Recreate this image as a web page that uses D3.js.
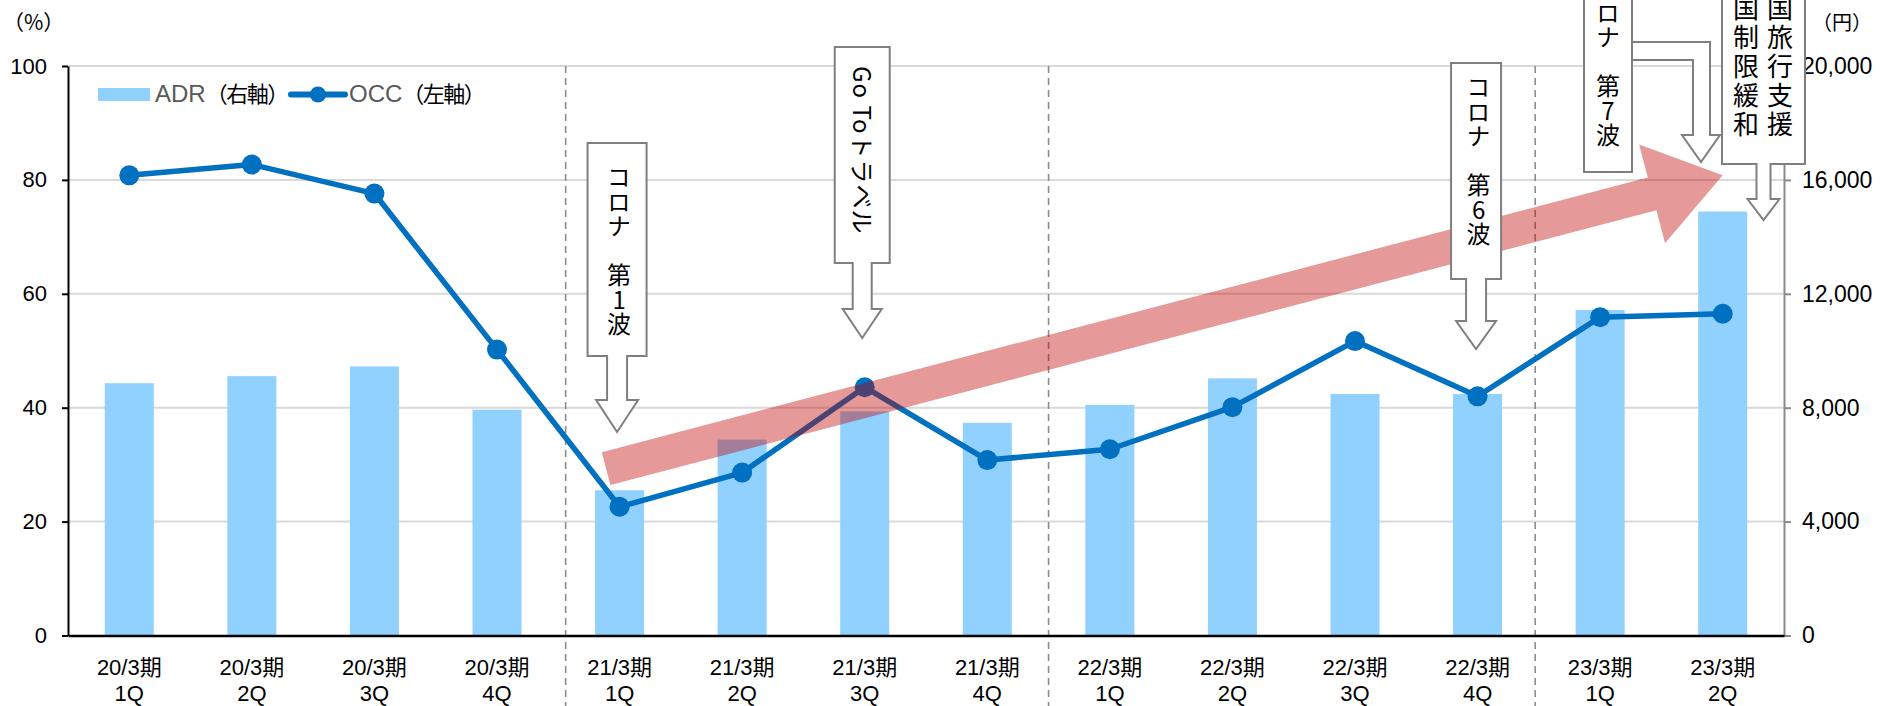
<!DOCTYPE html>
<html>
<head>
<meta charset="utf-8">
<script src="https://cdn.jsdelivr.net/npm/d3@7/dist/d3.min.js"></script>
<style>
  html, body { margin: 0; padding: 0; background: #fff; }
  svg { display: block; }
  text { font-family: "Liberation Sans", Arial, "Noto Sans CJK JP", sans-serif; }
  .jp { font-family: "Noto Sans CJK JP", "Liberation Sans", sans-serif; }
  .vt { font-family: "Noto Sans CJK JP", sans-serif; writing-mode: vertical-rl; text-orientation: upright; }
</style>
</head>
<body>
<svg id="chart" width="1880" height="706"></svg>
<script>
// ---------------- data ----------------
const periods  = ["20/3期","20/3期","20/3期","20/3期","21/3期","21/3期","21/3期","21/3期","22/3期","22/3期","22/3期","22/3期","23/3期","23/3期"];
const quarters = ["1Q","2Q","3Q","4Q","1Q","2Q","3Q","4Q","1Q","2Q","3Q","4Q","1Q","2Q"];
const adrValues = [8860, 9110, 9450, 7930, 5100, 6880, 7870, 7470, 8100, 9030, 8480, 8480, 11430, 14890];
const occValues = [80.8, 82.7, 77.6, 50.2, 22.6, 28.6, 43.6, 30.8, 32.7, 40.1, 51.7, 42.0, 55.9, 56.5];
const occTicks = [0, 20, 40, 60, 80, 100];
const adrTicks = [0, 4000, 8000, 12000, 16000, 20000];
const legendLabels = [["ADR", "（右軸）"], ["OCC", "（左軸）"]];
const fiscalDividers = [4.06, 8.0, 11.97];           // in category units
const calloutTexts = {
  wave1: "コロナ　第1波",
  goto: "Go Toトラベル",
  wave6: "コロナ　第6波",
  wave7: "コロナ　第7波",
  travelA: "全国旅行支援",
  travelB: "入国制限緩和"
};
// trend arrow: from (category position, OCC%) to (category position, OCC%)
const trendFrom = [3.89, 29.3];
const trendTo   = [13.0, 80.8];

// ---------------- layout ----------------
const W = 1880, H = 706;
const L = 68, R = 1784, T = 66, B = 635.5;
const barColor = "#91D1FF", lineColor = "#0070C0";
const svg = d3.select("#chart");

const x = d3.scaleBand().domain(d3.range(periods.length)).range([L, R]).paddingInner(0.6).paddingOuter(0.3);
const step = x.step();
const xc = i => L + step * (i + 0.5);           // category center, fractional allowed
const yOcc = d3.scaleLinear().domain([0, 100]).range([B, T]);
const yAdr = d3.scaleLinear().domain([0, 20000]).range([B, T]);

// gridlines
svg.append("g").selectAll("line").data(occTicks.filter(d => d > 0)).join("line")
  .attr("x1", L).attr("x2", R).attr("y1", d => yOcc(d)).attr("y2", d => yOcc(d))
  .attr("stroke", "#d9d9d9").attr("stroke-width", 2);

// fiscal year dividers
svg.append("g").selectAll("line").data(fiscalDividers).join("line")
  .attr("x1", d => L + step * d).attr("x2", d => L + step * d)
  .attr("y1", T).attr("y2", H)
  .attr("stroke", "#8c8c8c").attr("stroke-width", 1.6).attr("stroke-dasharray", "7,5");

// bars
svg.append("g").selectAll("rect").data(adrValues).join("rect")
  .attr("x", (d, i) => x(i)).attr("width", x.bandwidth())
  .attr("y", d => yAdr(d)).attr("height", d => B - yAdr(d))
  .attr("fill", barColor);

// axes
const gl = svg.append("g").attr("transform", `translate(${L},0)`)
  .call(d3.axisLeft(yOcc).tickValues(occTicks).tickSize(6).tickSizeOuter(0).tickPadding(15));
gl.select(".domain").attr("stroke", "#000").attr("stroke-width", 2);
gl.selectAll(".tick line").attr("stroke", "#000").attr("stroke-width", 2);
gl.selectAll(".tick text").attr("font-size", 22).attr("fill", "#000")
  .style("font-family", '"Liberation Sans", Arial, sans-serif');

const gr = svg.append("g").attr("transform", `translate(${R},0)`)
  .call(d3.axisRight(yAdr).tickValues(adrTicks).tickFormat(d3.format(",")).tickSize(7).tickSizeOuter(0).tickPadding(11));
gr.select(".domain").attr("stroke", "#8a8a8a").attr("stroke-width", 2);
gr.selectAll(".tick line").attr("stroke", "#8a8a8a").attr("stroke-width", 2);
gr.selectAll(".tick text").attr("font-size", 23).attr("fill", "#000")
  .style("font-family", '"Liberation Sans", Arial, sans-serif');

const gb = svg.append("g").attr("transform", `translate(0,${B})`)
  .call(d3.axisBottom(x).tickSize(0).tickSizeOuter(0).tickFormat(() => ""));
gb.select(".domain").attr("stroke", "#000").attr("stroke-width", 2.5);
gb.selectAll(".tick text").each(function(i) {
  const t = d3.select(this).attr("y", 0).attr("dy", null).attr("font-size", 22).attr("fill", "#000")
    .style("font-family", '"Liberation Sans", Arial, "Noto Sans CJK JP", sans-serif');
  t.text(null);
  t.append("tspan").attr("x", 0).attr("y", 675 - B).text(periods[i]);
  t.append("tspan").attr("x", 0).attr("y", 701 - B).text(quarters[i]);
});

// OCC line + markers
const line = d3.line().x((d, i) => xc(i)).y(d => yOcc(d));
svg.append("path").datum(occValues).attr("d", line)
  .attr("fill", "none").attr("stroke", lineColor).attr("stroke-width", 5.5).attr("stroke-linejoin", "round");
svg.append("g").selectAll("circle").data(occValues).join("circle")
  .attr("cx", (d, i) => xc(i)).attr("cy", d => yOcc(d)).attr("r", 10).attr("fill", lineColor);

// axis unit labels
svg.append("text").attr("class", "jp").attr("x", 3).attr("y", 30).attr("font-size", 21).attr("fill", "#000").text("（%）");
svg.append("text").attr("class", "jp").attr("x", 1812).attr("y", 30).attr("font-size", 20).attr("fill", "#000").text("（円）");

// legend
svg.append("rect").attr("x", 98).attr("y", 88).attr("width", 52).attr("height", 13).attr("fill", barColor);
const lg1 = svg.append("text").attr("x", 155).attr("y", 102).attr("font-size", 24).attr("fill", "#595959");
lg1.append("tspan").text(legendLabels[0][0]);
lg1.append("tspan").attr("class", "jp").attr("font-size", 22).attr("fill", "#000").attr("letter-spacing", -1.5).text(legendLabels[0][1]);
svg.append("line").attr("x1", 291).attr("x2", 345).attr("y1", 94.5).attr("y2", 94.5)
  .attr("stroke", lineColor).attr("stroke-width", 6).attr("stroke-linecap", "round");
svg.append("circle").attr("cx", 318).attr("cy", 94.5).attr("r", 8).attr("fill", lineColor);
const lg2 = svg.append("text").attr("x", 349).attr("y", 102).attr("font-size", 24).attr("fill", "#595959");
lg2.append("tspan").text(legendLabels[1][0]);
lg2.append("tspan").attr("class", "jp").attr("font-size", 22).attr("fill", "#000").attr("letter-spacing", -1.5).text(legendLabels[1][1]);

// trend arrow (semi-transparent red)
(function() {
  const S = [xc(trendFrom[0]), yOcc(trendFrom[1])];
  const E = [xc(trendTo[0]), yOcc(trendTo[1])];
  const dx = E[0] - S[0], dy = E[1] - S[1], len = Math.hypot(dx, dy);
  const u = [dx / len, dy / len], n = [-u[1], u[0]];
  const hw = 17, headLen = 73, headHw = 51;
  const Bp = [E[0] - u[0] * headLen, E[1] - u[1] * headLen];
  const p = (P, k) => [P[0] + n[0] * k, P[1] + n[1] * k];
  const pts = [p(S, -hw), p(Bp, -hw), p(Bp, -headHw), E, p(Bp, headHw), p(Bp, hw), p(S, hw)];
  svg.append("path").attr("d", "M" + pts.map(q => q.join(",")).join("L") + "Z")
    .attr("fill", "#C00000").attr("fill-opacity", 0.4);
})();

// callouts
const calloutStyle = sel => sel.attr("fill", "#fff").attr("stroke", "#7f7f7f").attr("stroke-width", 2).attr("stroke-linejoin", "miter");
function downCallout(cx, top, bottom, boxHalf, shaftHalf, headHalf, headTop, tip) {
  const d = `M${cx - boxHalf},${top}H${cx + boxHalf}V${bottom}H${cx + shaftHalf}V${headTop}H${cx + headHalf}` +
            `L${cx},${tip}L${cx - headHalf},${headTop}H${cx - shaftHalf}V${bottom}H${cx - boxHalf}Z`;
  svg.append("path").attr("d", d).call(calloutStyle);
}
function verticalText(str, cx, yTop, size, spacing) {
  svg.append("text").attr("class", "vt")
    .attr("x", cx).attr("y", yTop)
    .attr("font-size", size).attr("letter-spacing", spacing).attr("fill", "#000").text(str);
}

// コロナ 第1波
downCallout(xc(4) - 2.5, 143, 356, 29.5, 10, 21, 400, 432);
verticalText(calloutTexts.wave1, xc(4) - 0.5, 165, 24, 0.5);

// Go To トラベル
downCallout(xc(6) - 2.5, 47, 263, 27.5, 9.5, 19.5, 309, 338);
svg.append("text").attr("class", "jp")
  .attr("transform", `translate(${xc(6) - 1},66) rotate(90)`)
  .attr("dominant-baseline", "central").attr("font-size", 24).attr("letter-spacing", 1).attr("fill", "#000")
  .text(calloutTexts.goto);

// コロナ 第6波
downCallout(xc(11) - 1.5, 63, 279, 25, 10, 20, 321, 349);
verticalText(calloutTexts.wave6, xc(11) + 1, 75, 24, 0.5);

// コロナ 第7波 (elbow arrow)
svg.append("path").attr("d",
  "M1632,42H1710V135H1720L1701,162L1682,135H1693V60H1632Z").call(calloutStyle);
svg.append("rect").attr("x", 1584).attr("y", -60).attr("width", 48).attr("height", 232).call(calloutStyle);
verticalText(calloutTexts.wave7, 1608, -24, 24, 0.5);

// 全国旅行支援 / 入国制限緩和
downCallout(1763.5, -60, 164, 41.5, 7, 16, 199, 220);
verticalText(calloutTexts.travelA, 1780, -34, 26, 3);
verticalText(calloutTexts.travelB, 1746, -34, 26, 3);
</script>
</body>
</html>
